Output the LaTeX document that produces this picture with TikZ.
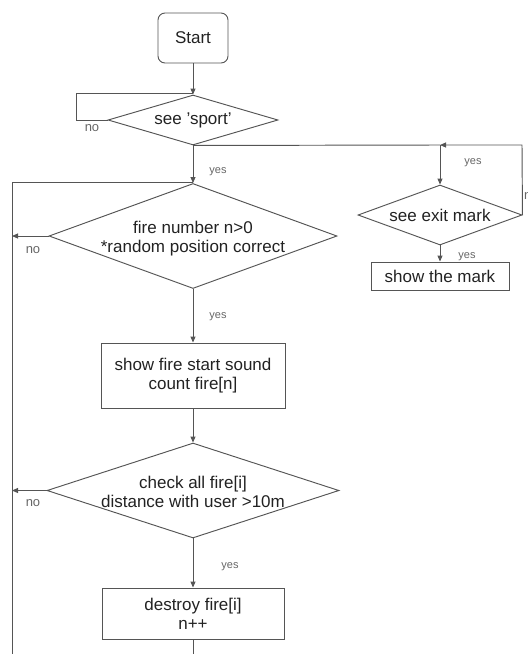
\documentclass[tikz,border=0pt]{standalone}
\usepackage{fontspec}
\setmainfont{Liberation Sans}
\usetikzlibrary{shapes.geometric,arrows.meta}
\definecolor{ln}{HTML}{555555}
\definecolor{tx}{HTML}{222222}
\definecolor{lb}{HTML}{666666}
\tikzset{
  every node/.style={text=tx},
  flow/.style={draw=ln,line width=0.95pt},
  arr/.style={flow,-{Triangle[length=6pt,width=5pt]}},
  boxnode/.style={draw=ln,line width=0.95pt,rectangle,inner sep=0pt,align=center,font=\fontsize{17}{19}\selectfont},
  startnode/.style={boxnode,rounded corners=7pt},
  dia/.style={draw=ln,line width=0.95pt,diamond,inner sep=0pt},
  diatext/.style={align=center,inner sep=0pt,font=\fontsize{17}{19}\selectfont},
  yeslab/.style={text=lb,inner sep=0pt,font=\fontsize{11}{12}\selectfont},
  nolab/.style={text=lb,inner sep=0pt,font=\fontsize{13}{14}\selectfont}
}
\begin{document}
\begin{tikzpicture}[x=1pt,y=-1pt]
\useasboundingbox (0,0) rectangle (528,654);
% nodes
\node[startnode,minimum width=70pt,minimum height=50pt] (start) at (193,38) {Start};
\node[dia,minimum width=170pt,minimum height=50pt] (sport) at (193,120) {};
\node[diatext] (sportt) at (sport) {see 'sport'};
\node[dia,minimum width=164pt,minimum height=60pt] (exit) at (440,215) {};
\node[diatext] (exitt) at (exit) {see exit mark};
\node[boxnode,minimum width=138pt,minimum height=28pt] (mark) at (440,276) {show the mark};
\node[dia,minimum width=288pt,minimum height=105pt] (fire) at (193,236) {};
\node[diatext] (firet) at (193,239) {fire number n>0\\*random position correct};
\node[boxnode,minimum width=184pt,minimum height=65pt] (sfs) at (193,375.5) {show fire start sound\\count fire[n]};
\node[dia,minimum width=292pt,minimum height=95pt] (check) at (193,490.5) {};
\node[diatext] (checkt) at (193,492) {check all fire[i]\\distance with user >10m};
\node[boxnode,minimum width=182pt,minimum height=51pt] (destroy) at (193,613.5) {destroy fire[i]\\n++};
% junction coordinates
\coordinate (j1) at (193,93);
\coordinate (l1) at (76,120);
\coordinate (l2) at (76,93);
\coordinate (r1) at (440,145);
\coordinate (r2) at (522,145);
\coordinate (m1) at (12,182);
\coordinate (m2) at (193,182);
\coordinate (m3) at (12,654);
\coordinate (n1) at (12,236);
\coordinate (n2) at (12,490.5);
\coordinate (bot) at (193,654);
% connectors
\draw[arr] (start) -- (sport.north);
\draw[flow] (sport.west) -- (l1) -- (l2) -- (j1);
\draw[arr] (sport.south) -- (fire.north);
\draw[flow] (sport.south) -- (r1);
\draw[arr] (r1) -- (exit.north);
\draw[arr] (exit.east) -- (r2) -- (r1);
\draw[arr] (exit.south) -- (mark.north);
\draw[flow] (m3) -- (m1) -- (m2);
\draw[arr] (fire.west) -- (n1);
\draw[arr] (fire.south) -- (sfs.north);
\draw[arr] (sfs.south) -- (check.north);
\draw[arr] (check.west) -- (n2);
\draw[arr] (check.south) -- (destroy.north);
\draw[flow] (destroy.south) -- (bot);
% labels
\node[nolab] (no1) at (92,128) {no};
\node[yeslab] (yes1) at (218,172) {yes};
\node[yeslab] (yes2) at (473,163) {yes};
\node[nolab,anchor=west] (no2) at (524,196) {no};
\node[yeslab] (yes3) at (467,257) {yes};
\node[nolab] (no3) at (33,250) {no};
\node[yeslab] (yes4) at (218,317) {yes};
\node[nolab] (no4) at (33,503) {no};
\node[yeslab] (yes5) at (230,567) {yes};
\end{tikzpicture}
\end{document}
